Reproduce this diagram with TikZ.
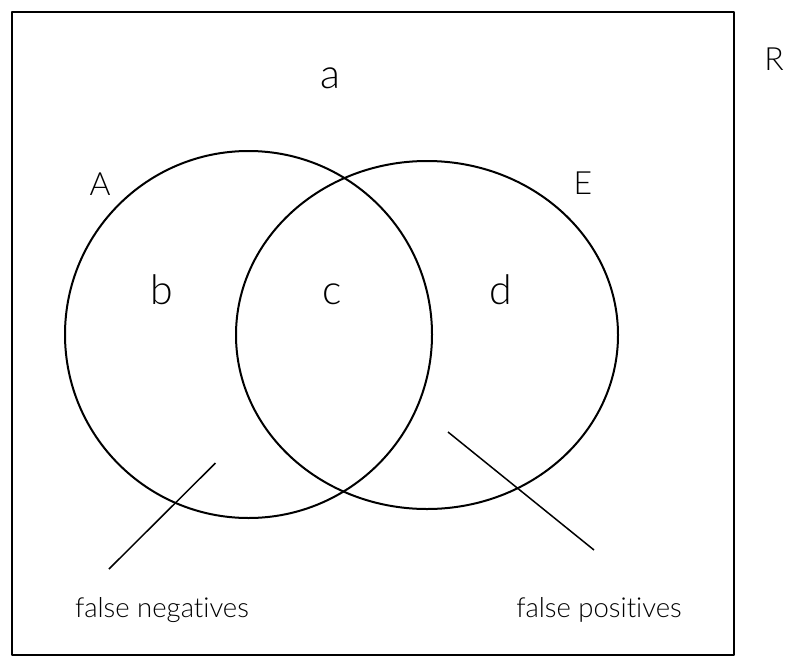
\documentclass[tikz,border=0pt]{standalone}
\usepackage{fontspec}
\setmainfont{Lato}[UprightFont={* Light}, Ligatures=NoCommon]
\usetikzlibrary{calc}

\tikzset{
  region/.style={font=\fontsize{41}{43}\selectfont, anchor=base, inner sep=0pt},
  setname/.style={font=\fontsize{32}{34}\selectfont, anchor=base, inner sep=0pt},
  caption/.style={font=\fontsize{27.5}{30}\selectfont, anchor=base, inner sep=0pt},
}

\begin{document}
\begin{tikzpicture}[x=1pt, y=-1pt, line join=round]
  \useasboundingbox (0,0) rectangle (789,656);

  \coordinate (A) at (248.5,334.5);
  \coordinate (E) at (427,335);
  \coordinate (fnTip) at (215.5,463);
  \coordinate (fnEnd) at (109,569);
  \coordinate (fpTip) at (448,432);
  \coordinate (fpEnd) at (594,550);

  \draw[line width=2pt] (12,12) rectangle (734,655);
  \draw[line width=2pt] (A) circle [radius=183.5];
  \draw[line width=2pt] (E) ellipse [x radius=191, y radius=174];
  \draw[line width=1.5pt] (fnTip) -- (fnEnd);
  \draw[line width=1.5pt] (fpTip) -- (fpEnd);

  \node[setname] (labR) at (774,70) {R};
  \node[region] (labOut) at (330.5,88) {a};
  \node[setname] (labA) at (100,195) {A};
  \node[setname] (labE) at (583,194.5) {E};
  \node[region] (labB) at (161.7,304) {b};
  \node[region] (labC) at (331.7,304) {c};
  \node[region] (labD) at (500.7,304) {d};
  \node[caption] (falseNeg) at (162,617) {false negat\kern0pt ives};
  \node[caption] (falsePos) at (599,617) {false posit\kern0pt ives};
\end{tikzpicture}
\end{document}
